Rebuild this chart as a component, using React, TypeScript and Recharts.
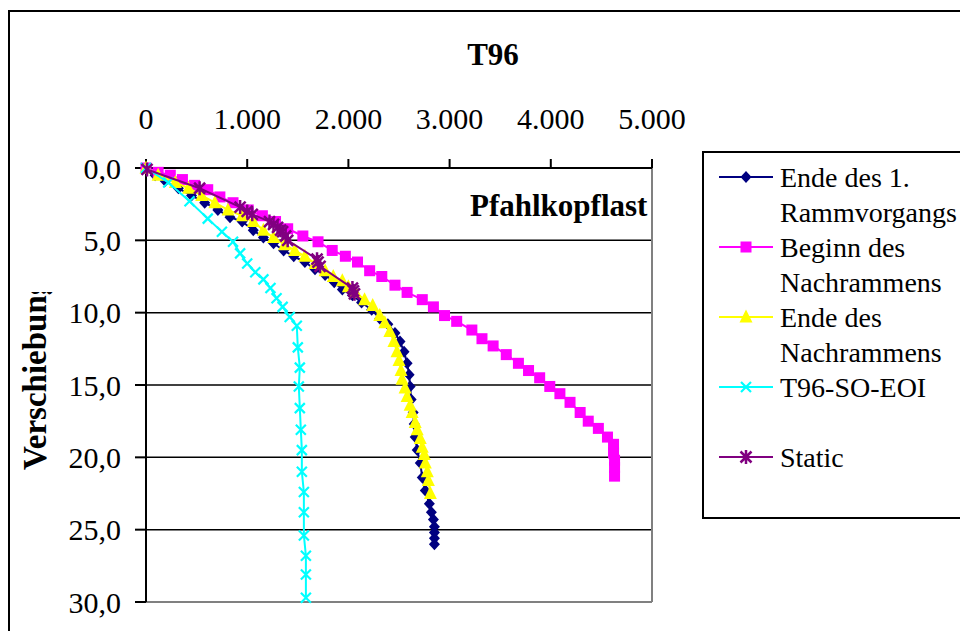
import { ScatterChart, Scatter, XAxis, YAxis, CartesianGrid, ReferenceLine } from "recharts";

const FONT = "'Liberation Serif', 'Times New Roman', serif";

const xTicks = [0, 1000, 2000, 3000, 4000, 5000];
const yTicks = [0, 5, 10, 15, 20, 25, 30];

// Ende des 1. Rammvorgangs
const ende1Last = [0, 90, 190, 320, 450, 580, 710, 830, 950, 1060, 1160, 1260, 1360, 1460, 1570, 1670, 1770, 1860, 1940, 2040, 2130, 2230, 2310, 2390, 2460, 2510, 2550, 2580, 2600, 2610, 2620, 2640, 2650, 2660, 2680, 2710, 2730, 2760, 2800, 2820, 2840, 2850, 2850, 2850, 2850];
const ende1Weg = [0, 0.5, 0.9, 1.4, 1.9, 2.4, 2.9, 3.4, 3.7, 4.3, 4.8, 5.2, 5.7, 6.1, 6.5, 7.0, 7.4, 7.9, 8.4, 8.8, 9.3, 9.8, 10.4, 10.8, 11.4, 12.0, 12.7, 13.5, 14.3, 15.1, 16.0, 16.9, 17.7, 18.6, 19.5, 20.4, 21.4, 22.3, 23.2, 23.8, 24.3, 24.8, 25.2, 25.6, 26.0];

// Beginn des Nachrammens
const beginnLast = [0, 120, 240, 360, 480, 610, 730, 860, 1010, 1150, 1280, 1400, 1550, 1700, 1840, 1970, 2090, 2210, 2330, 2460, 2580, 2730, 2840, 2950, 3070, 3220, 3320, 3430, 3560, 3680, 3780, 3890, 3990, 4090, 4190, 4290, 4370, 4470, 4560, 4620, 4620, 4630, 4630, 4630];
const beginnWeg = [0, 0.3, 0.5, 0.8, 1.2, 1.5, 2.0, 2.4, 2.9, 3.3, 3.7, 4.2, 4.7, 5.1, 5.7, 6.1, 6.5, 7.1, 7.5, 8.1, 8.6, 9.1, 9.6, 10.2, 10.6, 11.2, 11.8, 12.3, 12.9, 13.5, 14.0, 14.5, 15.1, 15.6, 16.2, 16.9, 17.5, 18.0, 18.6, 19.1, 19.7, 20.2, 20.7, 21.3];

// Ende des Nachrammens
const endeNachLast = [0, 120, 290, 420, 550, 680, 810, 950, 1060, 1160, 1260, 1370, 1470, 1570, 1670, 1770, 1850, 1940, 2000, 2070, 2160, 2240, 2310, 2360, 2410, 2450, 2480, 2500, 2520, 2530, 2560, 2580, 2610, 2630, 2660, 2680, 2710, 2730, 2750, 2760, 2780, 2790, 2810];
const endeNachWeg = [0, 0.5, 1.0, 1.4, 1.9, 2.4, 2.9, 3.3, 3.7, 4.3, 4.8, 5.3, 5.7, 6.1, 6.6, 7.1, 7.5, 7.8, 8.2, 8.6, 9.1, 9.5, 10.2, 10.7, 11.3, 12.0, 12.7, 13.3, 14.0, 14.6, 15.2, 15.8, 16.4, 16.9, 17.6, 18.1, 18.7, 19.3, 19.8, 20.4, 21.0, 21.6, 22.5];

// T96-SO-EOI
const eoiLast = [0, 220, 430, 610, 750, 860, 930, 1000, 1080, 1160, 1230, 1290, 1350, 1420, 1490, 1500, 1520, 1510, 1520, 1530, 1540, 1540, 1560, 1560, 1560, 1580, 1580, 1580];
const eoiWeg = [0, 1.0, 2.3, 3.5, 4.4, 5.1, 5.9, 6.6, 7.2, 7.7, 8.3, 9.0, 9.6, 10.3, 10.9, 12.4, 13.8, 15.1, 16.6, 18.1, 19.5, 21.0, 22.4, 23.8, 25.4, 26.8, 28.1, 29.7];

// Static
const staticLast = [10, 530, 930, 1000, 1050, 1220, 1260, 1300, 1330, 1350, 1380, 1400, 1690, 1700, 1720, 2040, 2050, 2060];
const staticWeg = [0.1, 1.4, 2.7, 3.0, 3.2, 3.7, 3.9, 4.1, 4.3, 4.4, 4.7, 5.0, 6.3, 6.5, 6.8, 8.3, 8.5, 8.7];

const pts = (xs: number[], ys: number[]) => xs.map((x, i) => ({ x, y: ys[i] }));

const fmtX = (v: number) => (v === 0 ? "0" : `${v / 1000}.000`);
const fmtY = (v: number) => v.toFixed(1).replace(".", ",");

const Diamond = ({ cx, cy }: any) => (
  <polygon points={`${cx},${cy - 6} ${cx + 5.5},${cy} ${cx},${cy + 6} ${cx - 5.5},${cy}`} fill="#000080" />
);
const Square = ({ cx, cy }: any) => <rect x={cx - 5.5} y={cy - 5.5} width={11} height={11} fill="#FF00FF" />;
const Triangle = ({ cx, cy }: any) => (
  <polygon points={`${cx},${cy - 7.5} ${cx + 6.5},${cy + 5.5} ${cx - 6.5},${cy + 5.5}`} fill="#FFFF00" />
);
const Cross = ({ cx, cy }: any) => (
  <path d={`M${cx - 5},${cy - 5}L${cx + 5},${cy + 5}M${cx - 5},${cy + 5}L${cx + 5},${cy - 5}`} stroke="#00FFFF" strokeWidth={2.2} />
);
const Star = ({ cx, cy }: any) => (
  <path
    d={`M${cx - 5.5},${cy - 5.5}L${cx + 5.5},${cy + 5.5}M${cx - 5.5},${cy + 5.5}L${cx + 5.5},${cy - 5.5}M${cx},${cy - 7}L${cx},${cy + 7}`}
    stroke="#800080"
    strokeWidth={2.5}
  />
);

const legendRows = [
  { color: "#000080", Shape: Diamond, lines: ["Ende des 1.", "Rammvorgangs"] },
  { color: "#FF00FF", Shape: Square, lines: ["Beginn des", "Nachrammens"] },
  { color: "#FFFF00", Shape: Triangle, lines: ["Ende des", "Nachrammens"] },
  { color: "#00FFFF", Shape: Cross, lines: ["T96-SO-EOI", ""] },
  { color: "#800080", Shape: Star, lines: ["Static"] },
];

export default function App() {
  const axisStroke = { stroke: "#000", strokeWidth: 2 };
  const tickFont = { fill: "#000", fontSize: 30, fontFamily: FONT };

  return (
    <div style={{ position: "fixed", left: 0, top: 0, width: 960, height: 631, overflow: "hidden", background: "#fff", fontFamily: FONT }}>
      <div style={{ position: "absolute", left: 8, top: 10, width: 1000, height: 700, border: "2.5px solid #000", boxSizing: "border-box" }} />
      <div style={{ position: "absolute", left: 0, top: 0 }}>
        <ScatterChart width={960} height={631} margin={{ top: 108, right: 308, bottom: 29, left: 66 }}>
          <CartesianGrid vertical={false} stroke="#000" strokeWidth={1.5} />
          <XAxis
            type="number"
            dataKey="x"
            orientation="top"
            domain={[0, 5000]}
            ticks={xTicks}
            interval={0}
            tickFormatter={fmtX}
            height={60}
            tickSize={9}
            tickMargin={30}
            axisLine={axisStroke}
            tickLine={axisStroke}
            tick={tickFont}
          />
          <YAxis
            type="number"
            dataKey="y"
            reversed
            domain={[0, 30]}
            ticks={yTicks}
            interval={0}
            tickFormatter={fmtY}
            width={80}
            tickSize={11}
            tickMargin={14}
            axisLine={axisStroke}
            tickLine={axisStroke}
            tick={tickFont}
          />
          <ReferenceLine x={5000} stroke="#808080" strokeWidth={2} />
          <ReferenceLine y={30} stroke="#808080" strokeWidth={2} />
          <Scatter data={pts(ende1Last, ende1Weg)} fill="#000080" line={{ stroke: "#000080", strokeWidth: 2 }} shape={Diamond} isAnimationActive={false} />
          <Scatter data={pts(beginnLast, beginnWeg)} fill="#FF00FF" line={{ stroke: "#FF00FF", strokeWidth: 2 }} shape={Square} isAnimationActive={false} />
          <Scatter data={pts(endeNachLast, endeNachWeg)} fill="#FFFF00" line={{ stroke: "#FFFF00", strokeWidth: 2 }} shape={Triangle} isAnimationActive={false} />
          <Scatter data={pts(eoiLast, eoiWeg)} fill="#00FFFF" line={{ stroke: "#00FFFF", strokeWidth: 2 }} shape={Cross} isAnimationActive={false} />
          <Scatter data={pts(staticLast, staticWeg)} fill="#800080" line={{ stroke: "#800080", strokeWidth: 2 }} shape={Star} isAnimationActive={false} />
        </ScatterChart>
      </div>
      <svg width={960} height={631} style={{ position: "absolute", left: 0, top: 0, pointerEvents: "none" }} fontFamily={FONT}>
        <defs>
          <clipPath id="ylabClip">
            <rect x={0} y={292} width={70} height={300} />
          </clipPath>
        </defs>
        <text x={493} y={65} textAnchor="middle" fontWeight="bold" fontSize={31}>T96</text>
        <text x={470} y={216} fontWeight="bold" fontSize={31}>Pfahlkopflast</text>
        <g clipPath="url(#ylabClip)">
          <text x={46} y={470} transform="rotate(-90, 46, 470)" fontWeight="bold" fontSize={33}>Verschiebung</text>
        </g>
        <rect x={703} y={152} width={300} height={366} fill="#fff" stroke="#000" strokeWidth={2} />
        {legendRows.map((row, i) => {
          const cy = 177 + i * 70;
          return (
            <g key={i}>
              <line x1={719} x2={773} y1={cy} y2={cy} stroke={row.color} strokeWidth={2} />
              <row.Shape cx={746} cy={cy} />
              {row.lines.map((t, j) => (
                <text key={j} x={780} y={cy + 10 + j * 35} fontSize={28}>{t}</text>
              ))}
            </g>
          );
        })}
      </svg>
    </div>
  );
}
